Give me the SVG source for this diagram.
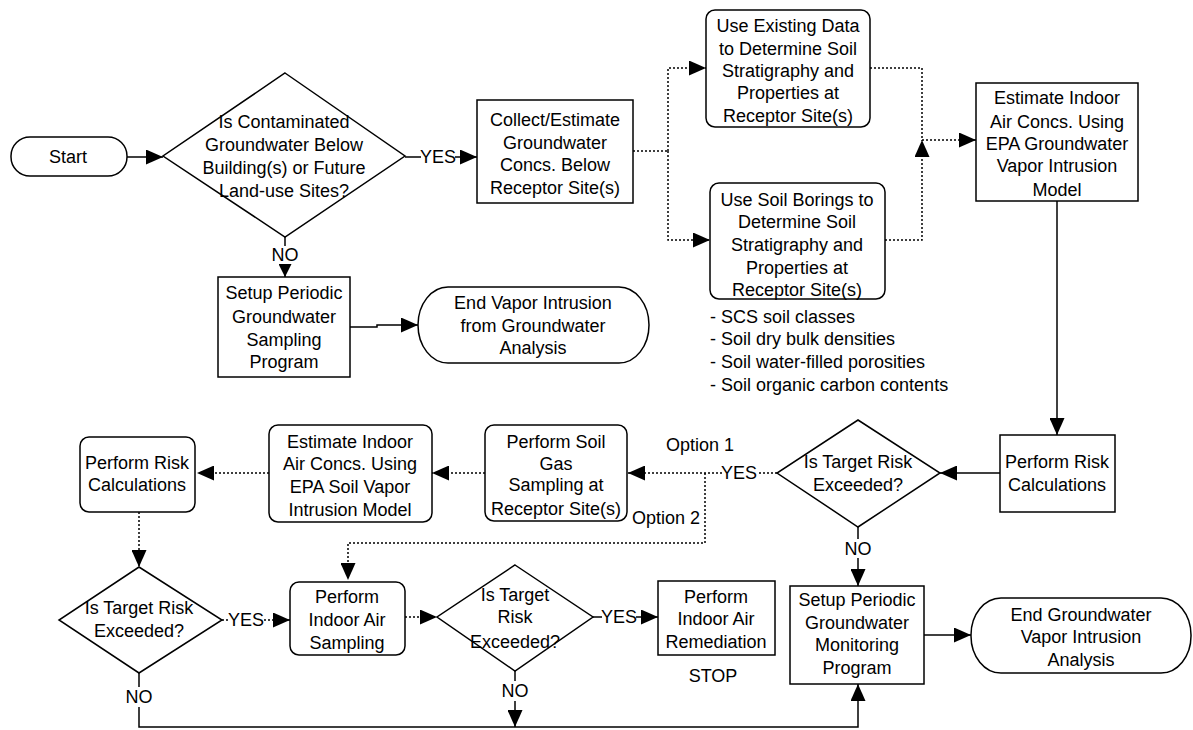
<svg xmlns="http://www.w3.org/2000/svg" width="1193" height="730" viewBox="0 0 1193 730">
<defs>
<marker id="ah" markerUnits="userSpaceOnUse" markerWidth="17" markerHeight="15" refX="17" refY="7.5" orient="auto"><path d="M0,0 L17,7.5 L0,15 z" fill="#000"/></marker>
<marker id="ahs" markerUnits="userSpaceOnUse" markerWidth="13" markerHeight="13" refX="13" refY="6.5" orient="auto"><path d="M0,0 L13,6.5 L0,13 z" fill="#000"/></marker>
</defs>
<style>
text{font-family:"Liberation Sans",Arial,sans-serif;font-size:18px;fill:#000;text-anchor:middle}
.shape{fill:#fff;stroke:#000;stroke-width:1.5}
.solid{fill:none;stroke:#000;stroke-width:1.5}
.dot{fill:none;stroke:#000;stroke-width:1.5;stroke-dasharray:2 2}
.left{text-anchor:start}
</style>
<rect width="1193" height="730" fill="#fff"/>

<g id="connectors">
<line class="solid" x1="127" y1="157" x2="163" y2="157" marker-end="url(#ah)"/>
<line class="solid" x1="405" y1="157" x2="421" y2="157"/>
<line class="solid" x1="455" y1="157" x2="477" y2="157" marker-end="url(#ah)"/>
<line class="solid" x1="285" y1="237" x2="285" y2="246"/>
<line class="solid" x1="285" y1="264" x2="285" y2="277" marker-end="url(#ahs)"/>
<polyline class="solid" points="350,327 377,327 377,325 418,325" marker-end="url(#ah)"/>
<line class="solid" x1="1057" y1="201" x2="1057" y2="435" marker-end="url(#ah)"/>
<line class="solid" x1="1000" y1="473" x2="940" y2="473" marker-end="url(#ah)"/>
<line class="solid" x1="858" y1="527" x2="858" y2="539"/>
<line class="solid" x1="858" y1="558" x2="858" y2="586" marker-end="url(#ah)"/>
<line class="solid" x1="924" y1="635" x2="971" y2="635" marker-end="url(#ah)"/>
<line class="solid" x1="593" y1="617" x2="602" y2="617"/>
<line class="solid" x1="636" y1="617" x2="658" y2="617" marker-end="url(#ah)"/>
<line class="solid" x1="515" y1="671" x2="515" y2="681"/>
<line class="solid" x1="515" y1="701" x2="515" y2="727" marker-end="url(#ah)"/>
<line class="solid" x1="139" y1="673" x2="139" y2="687"/>
<polyline class="solid" points="139,707 139,727 858,727 858,684" marker-end="url(#ah)"/>

<line class="dot" x1="633" y1="151" x2="668" y2="151"/>
<polyline class="dot" points="668,151 668,68 706,68" marker-end="url(#ah)"/>
<polyline class="dot" points="668,151 668,240 710,240" marker-end="url(#ah)"/>
<polyline class="dot" points="870,68 922,68 922,140"/>
<polyline class="dot" points="885,240 922,240 922,140" marker-end="url(#ah)"/>
<line class="dot" x1="922" y1="140" x2="976" y2="140" marker-end="url(#ah)"/>
<line class="dot" x1="777" y1="473" x2="757" y2="473"/>
<line class="dot" x1="722" y1="473" x2="628" y2="473" marker-end="url(#ah)"/>
<polyline class="dot" points="705,473 705,543 348,543 348,580" marker-end="url(#ah)"/>
<line class="dot" x1="485" y1="473" x2="432" y2="473" marker-end="url(#ah)"/>
<line class="dot" x1="269" y1="473" x2="197" y2="473" marker-end="url(#ah)"/>
<line class="dot" x1="139" y1="512" x2="139" y2="567" marker-end="url(#ah)"/>
<line class="dot" x1="222" y1="620" x2="228" y2="620"/>
<line class="dot" x1="264" y1="620" x2="290" y2="620" marker-end="url(#ah)"/>
<line class="dot" x1="405" y1="617" x2="437" y2="617" marker-end="url(#ah)"/>

<text x="438" y="163">YES</text>
<text x="285" y="261">NO</text>
<text x="858" y="555">NO</text>
<text x="739" y="479">YES</text>
<text x="700" y="451">Option 1</text>
<text x="666" y="524">Option 2</text>
<text x="246" y="626">YES</text>
<text x="619" y="623">YES</text>
<text x="515" y="697">NO</text>
<text x="139" y="703">NO</text>
</g>

<g id="start">
<rect class="shape" x="11" y="137" width="116" height="39" rx="19" ry="19"/>
<text x="68" y="163">Start</text>
</g>

<g id="d1">
<polygon class="shape" points="285,73 405,156 285,237 163,156"/>
<text x="284" y="128">Is Contaminated</text>
<text x="284" y="151">Groundwater Below</text>
<text x="284" y="174">Building(s) or Future</text>
<text x="284" y="197">Land-use Sites?</text>
</g>

<g id="collect">
<rect class="shape" x="477" y="100" width="156" height="103"/>
<text x="555" y="126">Collect/Estimate</text>
<text x="555" y="149">Groundwater</text>
<text x="555" y="171">Concs. Below</text>
<text x="555" y="194">Receptor Site(s)</text>
</g>

<g id="existing">
<rect class="shape" x="706" y="10" width="164" height="117" rx="9"/>
<text x="788" y="32">Use Existing Data</text>
<text x="788" y="55">to Determine Soil</text>
<text x="788" y="77">Stratigraphy and</text>
<text x="788" y="99">Properties at</text>
<text x="788" y="122">Receptor Site(s)</text>
</g>

<g id="borings">
<rect class="shape" x="710" y="183" width="175" height="116" rx="9"/>
<text x="797" y="206">Use Soil Borings to</text>
<text x="797" y="228">Determine Soil</text>
<text x="797" y="251">Stratigraphy and</text>
<text x="797" y="274">Properties at</text>
<text x="797" y="296">Receptor Site(s)</text>
</g>

<g id="bullets">
<text class="left" x="710" y="323">- SCS soil classes</text>
<text class="left" x="710" y="345">- Soil dry bulk densities</text>
<text class="left" x="710" y="368">- Soil water-filled porosities</text>
<text class="left" x="710" y="391">- Soil organic carbon contents</text>
</g>

<g id="estimate-gw">
<rect class="shape" x="976" y="83" width="162" height="118"/>
<text x="1057" y="104">Estimate Indoor</text>
<text x="1057" y="128">Air Concs. Using</text>
<text x="1057" y="150">EPA Groundwater</text>
<text x="1057" y="172">Vapor Intrusion</text>
<text x="1057" y="196">Model</text>
</g>

<g id="setup-sampling">
<rect class="shape" x="218" y="277" width="132" height="100"/>
<text x="284" y="299">Setup Periodic</text>
<text x="284" y="323">Groundwater</text>
<text x="284" y="346">Sampling</text>
<text x="284" y="368">Program</text>
</g>

<g id="end-vapor">
<rect class="shape" x="418" y="287" width="231" height="76" rx="30" ry="38"/>
<text x="533" y="309">End Vapor Intrusion</text>
<text x="533" y="332">from Groundwater</text>
<text x="533" y="354">Analysis</text>
</g>

<g id="risk-right">
<rect class="shape" x="1000" y="435" width="115" height="77"/>
<text x="1057" y="468">Perform Risk</text>
<text x="1057" y="491">Calculations</text>
</g>

<g id="d2">
<polygon class="shape" points="858,420 940,473 858,527 777,473"/>
<text x="858" y="468">Is Target Risk</text>
<text x="858" y="491">Exceeded?</text>
</g>

<g id="soil-gas">
<rect class="shape" x="485" y="425" width="142" height="96" rx="9"/>
<text x="556" y="448">Perform Soil</text>
<text x="556" y="470">Gas</text>
<text x="556" y="491">Sampling at</text>
<text x="556" y="515">Receptor Site(s)</text>
</g>

<g id="estimate-soil">
<rect class="shape" x="269" y="425" width="163" height="97" rx="9"/>
<text x="350" y="448">Estimate Indoor</text>
<text x="350" y="470">Air Concs. Using</text>
<text x="350" y="493">EPA Soil Vapor</text>
<text x="350" y="516">Intrusion Model</text>
</g>

<g id="risk-left">
<rect class="shape" x="80" y="437" width="115" height="75" rx="9"/>
<text x="137" y="469">Perform Risk</text>
<text x="137" y="491">Calculations</text>
</g>

<g id="d3">
<polygon class="shape" points="139,567 222,620 139,673 59,620"/>
<text x="139" y="614">Is Target Risk</text>
<text x="139" y="637">Exceeded?</text>
</g>

<g id="indoor-sampling">
<rect class="shape" x="290" y="582" width="115" height="73" rx="9"/>
<text x="347" y="603">Perform</text>
<text x="347" y="626">Indoor Air</text>
<text x="347" y="649">Sampling</text>
</g>

<g id="d4">
<polygon class="shape" points="515,565 593,617 515,671 437,617"/>
<text x="515" y="601">Is Target</text>
<text x="515" y="623">Risk</text>
<text x="515" y="648">Exceeded?</text>
</g>

<g id="remediation">
<rect class="shape" x="658" y="581" width="117" height="74"/>
<text x="716" y="603">Perform</text>
<text x="716" y="625">Indoor Air</text>
<text x="716" y="648">Remediation</text>
<text x="713" y="682">STOP</text>
</g>

<g id="setup-monitoring">
<rect class="shape" x="790" y="586" width="134" height="98"/>
<text x="857" y="606">Setup Periodic</text>
<text x="857" y="629">Groundwater</text>
<text x="857" y="651">Monitoring</text>
<text x="857" y="674">Program</text>
</g>

<g id="end-gw">
<rect class="shape" x="971" y="598" width="220" height="75" rx="30" ry="37"/>
<text x="1081" y="621">End Groundwater</text>
<text x="1081" y="643">Vapor Intrusion</text>
<text x="1081" y="666">Analysis</text>
</g>
</svg>
